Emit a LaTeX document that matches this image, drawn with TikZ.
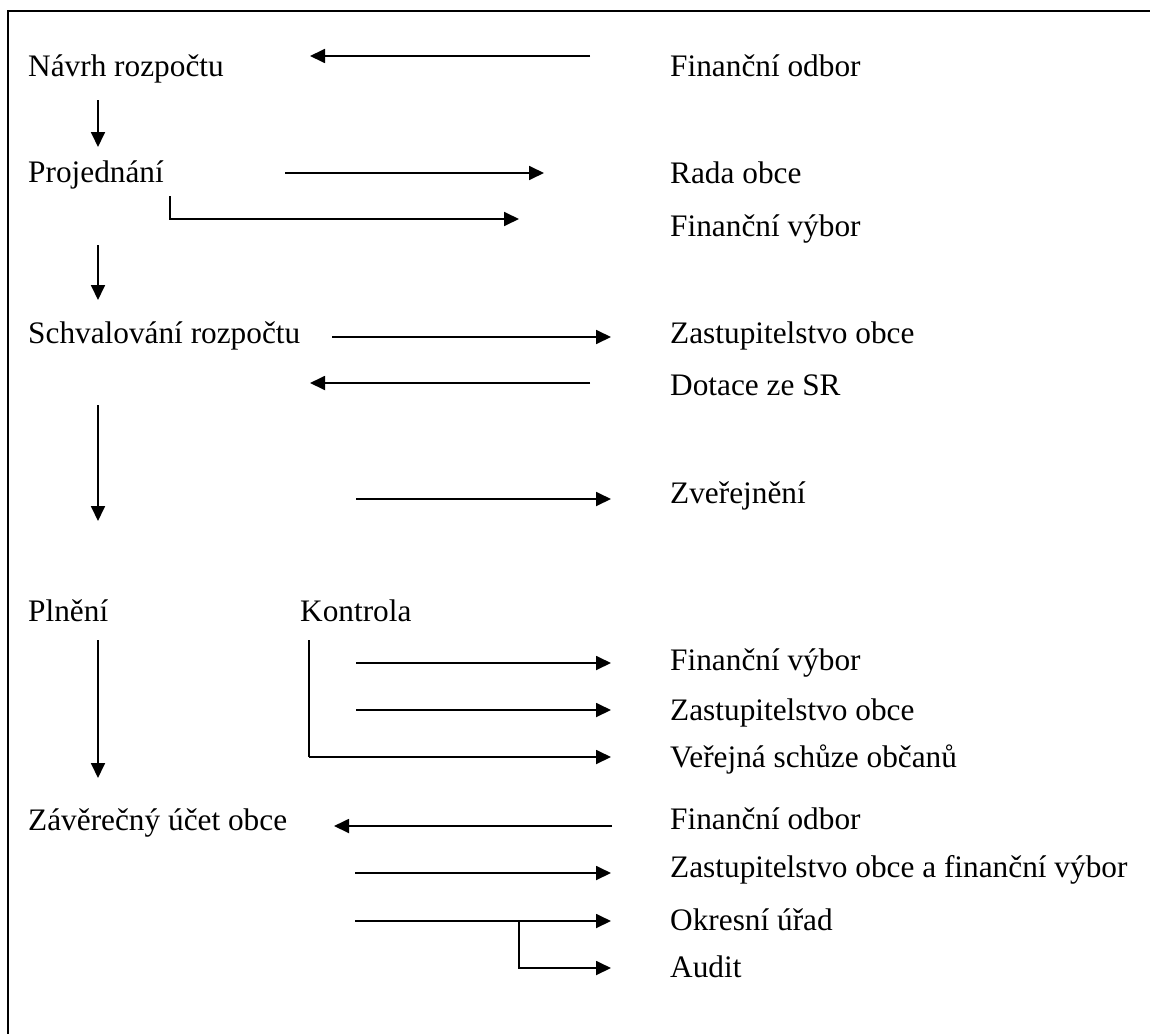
\documentclass[tikz,border=0pt]{standalone}
\usepackage{fontspec}
\setmainfont{Liberation Serif}
\usetikzlibrary{arrows.meta}
\begin{document}
\begin{tikzpicture}[x=1pt,y=-1pt,
  txt/.style={anchor=base west,inner sep=0pt,font=\fontsize{31.3}{36}\selectfont},
  arr/.style={line width=1.8pt,-{Triangle[length=15pt,width=14pt]}},
  ln/.style={line width=1.8pt},
  frame/.style={line width=2.5pt}]
\useasboundingbox (0,0) rectangle (1150,1033);
% frame (top and left edges visible)
\coordinate (fTR) at (1152,11);
\coordinate (fTL) at (8,11);
\coordinate (fBL) at (8,1036);
\draw[frame] (fTR) -- (fTL) -- (fBL);

% left column
\node[txt] (navrh) at (28,77) {Návrh rozpočtu};
\node[txt] (proj) at (28,182) {Projednání};
\node[txt] (schv) at (28,343) {Schvalování rozpočtu};
\node[txt] (plneni) at (28,621) {Plnění};
\node[txt] (kontrola) at (300,621) {Kontrola};
\node[txt] (zaver) at (28,830) {Závěrečný účet obce};

% right column
\node[txt] (fo1) at (670,77) {Finanční odbor};
\node[txt] (rada) at (670,183) {Rada obce};
\node[txt] (fv1) at (670,236) {Finanční výbor};
\node[txt] (zo1) at (670,343) {Zastupitelstvo obce};
\node[txt] (dot) at (670,395) {Dotace ze SR};
\node[txt] (zver) at (670,503) {Zveřejnění};
\node[txt] (fv2) at (670,670) {Finanční výbor};
\node[txt] (zo2) at (670,720) {Zastupitelstvo obce};
\node[txt] (ves) at (670,767) {Veřejná schůze občanů};
\node[txt] (fo2) at (670,829) {Finanční odbor};
\node[txt] (zofv) at (670,877) {Zastupitelstvo obce a finanční výbor};
\node[txt] (okr) at (670,930) {Okresní úřad};
\node[txt] (aud) at (670,977) {Audit};

% coordinates for connector ends
\coordinate (a1s) at (590,56);  \coordinate (a1e) at (310,56);
\coordinate (d1s) at (98,100);  \coordinate (d1e) at (98,147);
\coordinate (a2s) at (285,173); \coordinate (a2e) at (544,173);
\coordinate (e1a) at (170,196); \coordinate (e1b) at (170,219); \coordinate (e1e) at (519,219);
\coordinate (d2s) at (98,245);  \coordinate (d2e) at (98,300);
\coordinate (a3s) at (332,337); \coordinate (a3e) at (611,337);
\coordinate (a4s) at (590,383); \coordinate (a4e) at (310,383);
\coordinate (d3s) at (98,405);  \coordinate (d3e) at (98,521);
\coordinate (a5s) at (356,499); \coordinate (a5e) at (611,499);
\coordinate (k0) at (309,640);  \coordinate (k3) at (309,757);
\coordinate (k1s) at (356,663); \coordinate (k1e) at (611,663);
\coordinate (k2s) at (356,710); \coordinate (k2e) at (611,710);
\coordinate (k3e) at (611,757);
\coordinate (d4s) at (98,640);  \coordinate (d4e) at (98,778);
\coordinate (b1s) at (612,826); \coordinate (b1e) at (334,826);
\coordinate (b2s) at (355,873); \coordinate (b2e) at (611,873);
\coordinate (b3s) at (355,921); \coordinate (b3e) at (611,921);
\coordinate (br) at (519,921);  \coordinate (br2) at (519,968); \coordinate (b4e) at (611,968);

\draw[arr] (a1s) -- (a1e);
\draw[arr] (d1s) -- (d1e);
\draw[arr] (a2s) -- (a2e);
\draw[arr] (e1a) -- (e1b) -- (e1e);
\draw[arr] (d2s) -- (d2e);
\draw[arr] (a3s) -- (a3e);
\draw[arr] (a4s) -- (a4e);
\draw[arr] (d3s) -- (d3e);
\draw[arr] (a5s) -- (a5e);
\draw[ln] (k0) -- (k3);
\draw[arr] (k3) -- (k3e);
\draw[arr] (k1s) -- (k1e);
\draw[arr] (k2s) -- (k2e);
\draw[arr] (d4s) -- (d4e);
\draw[arr] (b1s) -- (b1e);
\draw[arr] (b2s) -- (b2e);
\draw[arr] (b3s) -- (b3e);
\draw[arr] (br) -- (br2) -- (b4e);
\end{tikzpicture}
\end{document}
